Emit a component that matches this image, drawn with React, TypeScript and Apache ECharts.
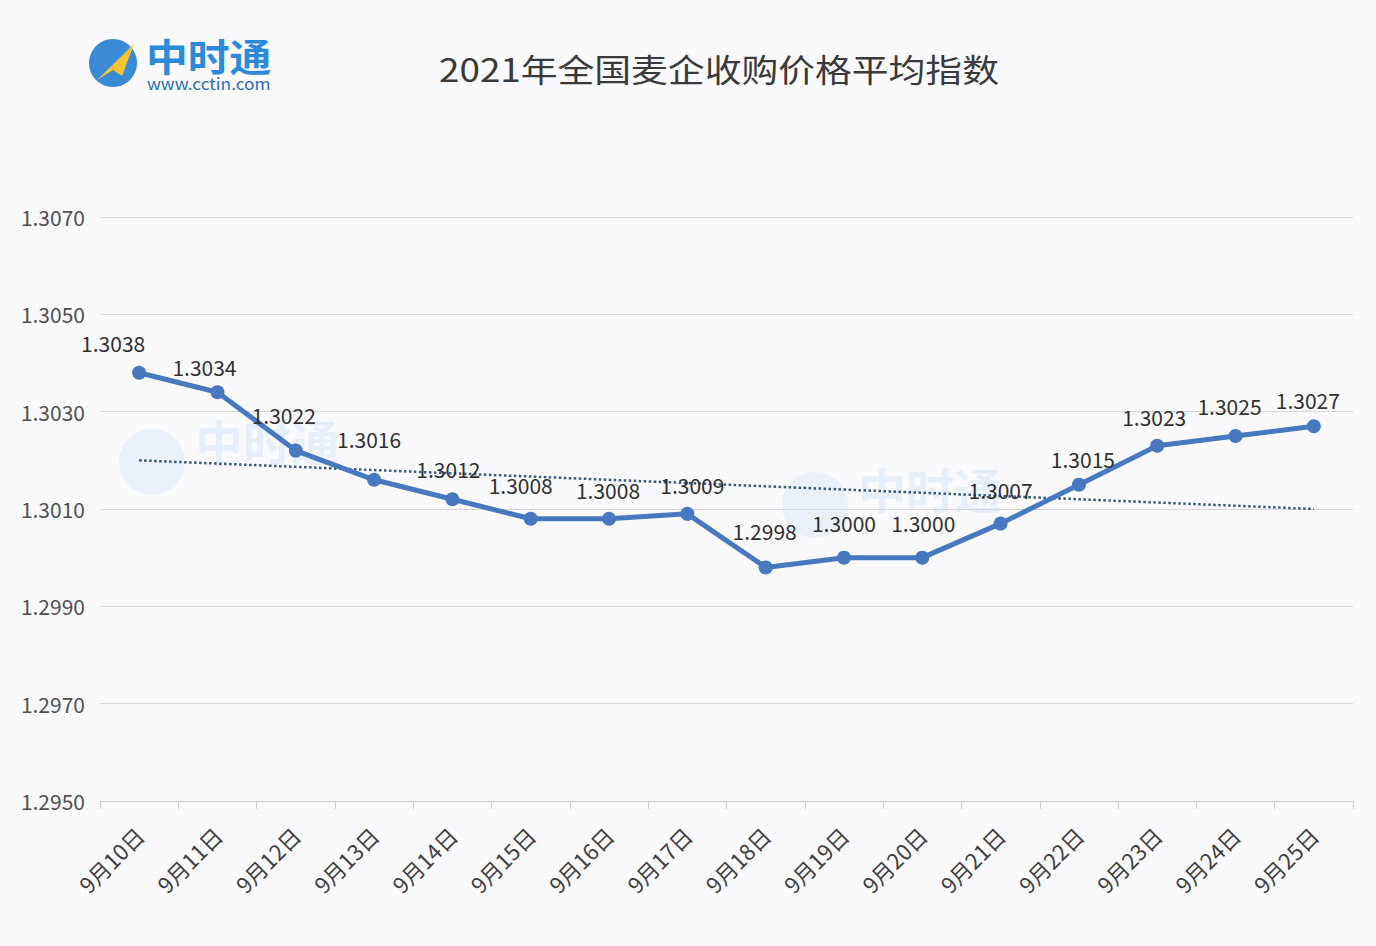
import React, { useEffect, useRef } from "react";
import * as echarts from "echarts";

const titleText = "2021年全国麦企收购价格平均指数";
const categories = [
  "9月10日", "9月11日", "9月12日", "9月13日", "9月14日", "9月15日", "9月16日", "9月17日",
  "9月18日", "9月19日", "9月20日", "9月21日", "9月22日", "9月23日", "9月24日", "9月25日",
];
const priceIndex = [
  1.3038, 1.3034, 1.3022, 1.3016, 1.3012, 1.3008, 1.3008, 1.3009,
  1.2998, 1.3, 1.3, 1.3007, 1.3015, 1.3023, 1.3025, 1.3027,
];
// linear trend line end points
const trendStart = 1.302;
const trendEnd = 1.301;
const yMin = 1.295;
const yMax = 1.307;
const yStep = 0.002;

// label offsets (px) from each marker centre, mimicking Excel's placement
const labelOffsets: [number, number][] = [
  [-26, -30], [-13, -25], [-12, -36], [-5, -41], [-4, -30], [-10, -34], [-1, -29], [5, -29],
  [-1, -36], [0, -35], [1, -35], [0, -34], [4, -26], [-3, -29], [-6, -30], [-6, -26],
];

const FONT = '"Noto Sans CJK SC", "Noto Sans", sans-serif';
const LINE_BLUE = "#4878bf";

export default function App() {
  const ref = useRef<HTMLDivElement>(null);

  useEffect(() => {
    document.body.style.margin = "0";
    if (!ref.current) return;
    const chart = echarts.init(ref.current, undefined, { renderer: "svg" });

    const trendData = categories.map((_, i) =>
      i === 0 ? trendStart : i === categories.length - 1 ? trendEnd : null
    );

    const mainData = priceIndex.map((v, i) => ({
      value: v,
      label: { offset: labelOffsets[i] },
    }));

    chart.setOption({
      animation: false,
      backgroundColor: "#fafafc",
      textStyle: { fontFamily: FONT },
      grid: { left: 100, right: 23, top: 217, bottom: 145, containLabel: false },
      xAxis: {
        type: "category",
        data: categories,
        boundaryGap: true,
        axisLine: { show: true, lineStyle: { color: "#cfcfcf", width: 1 } },
        axisTick: { show: true, length: 8, alignWithLabel: false, lineStyle: { color: "#cfcfcf" } },
        axisLabel: {
          rotate: 45,
          margin: 30,
          color: "#404040",
          fontSize: 22,
          fontFamily: FONT,
          interval: 0,
        },
        splitLine: { show: false },
      },
      yAxis: {
        type: "value",
        min: yMin,
        max: yMax,
        interval: yStep,
        axisLine: { show: false },
        axisTick: { show: false },
        axisLabel: {
          color: "#505050",
          fontSize: 21,
          margin: 15,
          fontFamily: FONT,
          formatter: (v: number) => v.toFixed(4),
        },
        splitLine: { show: true, lineStyle: { color: "#d6d6d6", width: 1 } },
      },
      series: [
        {
          name: "趋势",
          type: "line",
          data: trendData,
          connectNulls: true,
          symbol: "none",
          silent: true,
          z: 1,
          lineStyle: { color: "#3a5878", width: 2.5, type: "dotted" },
        },
        {
          name: "平均指数",
          type: "line",
          data: mainData,
          symbol: "circle",
          symbolSize: 14,
          z: 3,
          itemStyle: { color: LINE_BLUE },
          lineStyle: { color: LINE_BLUE, width: 5 },
          label: {
            show: true,
            position: "inside",
            color: "#303030",
            fontSize: 21,
            fontFamily: FONT,
            formatter: (p: any) => Number(p.value).toFixed(4),
          },
        },
      ],
      graphic: [
        // faint watermarks
        {
          type: "group",
          silent: true,
          z: 0,
          children: [
            { type: "circle", shape: { cx: 152, cy: 462, r: 33 }, style: { fill: "rgba(120,180,235,0.13)" } },
            { type: "text", x: 195, y: 440, style: { text: "中时通", fontSize: 48, fontWeight: "bold", fill: "rgba(90,165,230,0.15)", fontFamily: FONT, textVerticalAlign: "middle" } },
            { type: "circle", shape: { cx: 815, cy: 505, r: 33 }, style: { fill: "rgba(120,180,235,0.13)" } },
            { type: "text", x: 858, y: 488, style: { text: "中时通", fontSize: 48, fontWeight: "bold", fill: "rgba(90,165,230,0.15)", fontFamily: FONT, textVerticalAlign: "middle" } },
          ],
        },
        // logo
        {
          type: "group",
          children: [
            { type: "circle", shape: { cx: 113, cy: 63, r: 24 }, style: { fill: "#3a8ad6" } },
            { type: "polygon", shape: { points: [[97, 80], [134, 44], [122, 76], [113, 70]] }, style: { fill: "#f5c431" } },
            {
              type: "text",
              x: 146,
              y: 55,
              style: {
                text: "中时通",
                fontSize: 38,
                fontWeight: "bold",
                fill: "#2d8ad8",
                fontFamily: FONT,
                textVerticalAlign: "middle",
              },
              scaleX: 1.1,
            },
            {
              type: "text",
              x: 147,
              y: 83,
              style: {
                text: "www.cctin.com",
                fontSize: 16,
                fill: "#2a6db5",
                fontFamily: FONT,
                textVerticalAlign: "middle",
              },
              scaleX: 1.08,
            },
          ],
        },
        // title
        {
          type: "text",
          x: 719,
          y: 68,
          scaleX: 1.15,
          style: {
            text: titleText,
            fontSize: 32,
            fill: "#3a3a3a",
            fontFamily: FONT,
            textAlign: "center",
            textVerticalAlign: "middle",
          },
        },
      ],
    });

    return () => chart.dispose();
  }, []);

  return <div ref={ref} style={{ width: 1376, height: 946 }} />;
}
